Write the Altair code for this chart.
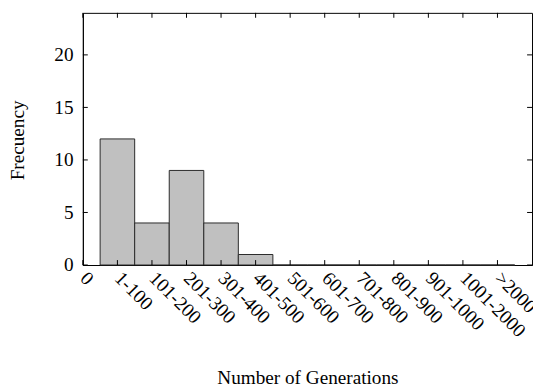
import altair as alt
import pandas as pd

# ---- data ----
categories = ["1-100", "101-200", "201-300", "301-400", "401-500", "501-600",
              "601-700", "701-800", "801-900", "901-1000", "1001-2000", ">2000"]
counts = [12, 4, 9, 4, 1, 0, 0, 0, 0, 0, 0, 0]
positions = list(range(1, len(categories) + 1))
x_tick_values = [0] + positions
x_tick_labels = ["0"] + categories
y_tick_values = [0, 5, 10, 15, 20]

W, H = 456, 256
FONT = "Liberation Serif"
FS = 19.5

bars_df = pd.DataFrame({
    "pos": positions,
    "label": categories,
    "count": counts,
    "left": [p - 0.5 for p in positions],
    "right": [p + 0.5 for p in positions],
})
xt_df = pd.DataFrame({"xt": x_tick_values})
yt_df = pd.DataFrame({"yt": y_tick_values})

x_scale = alt.Scale(domain=[0, 13], nice=False, zero=False)
y_scale = alt.Scale(domain=[0, 24], nice=False)

label_expr = "[" + ",".join("'" + s + "'" for s in x_tick_labels) + "][datum.value]"

common = dict(labelFont=FONT, titleFont=FONT, labelFontSize=FS, titleFontSize=FS,
              labelColor="black", titleColor="black", titleFontWeight="normal",
              tickSize=0, grid=False, domainColor="black", domainWidth=1)

x_axis = alt.Axis(values=x_tick_values, labelExpr=label_expr,
                  title="Number of Generations",
                  titleY=120, titleBaseline="alphabetic",
                  labelAngle=45, labelAlign="left", labelBaseline="middle",
                  labelPadding=10,
                  labelOverlap=False, labelFlush=False, labelBound=False,
                  **common)
y_axis = alt.Axis(values=y_tick_values, title="Frecuency",
                  titleAngle=270, titleX=-60, titleY=129,
                  titleBaseline="alphabetic", titleAlign="center",
                  labelPadding=10, **common)

bars = alt.Chart(bars_df).mark_rect(
    fill="#c0c0c0", stroke="#2a2a2a", strokeWidth=1
).encode(
    x=alt.X("left:Q", scale=x_scale, axis=x_axis),
    x2="right:Q",
    y=alt.Y("count:Q", scale=y_scale, axis=y_axis),
    y2=alt.datum(0),
)

tick_bottom = alt.Chart(xt_df).mark_rule(color="black", strokeWidth=1).encode(
    x=alt.X("xt:Q", scale=x_scale, axis=x_axis),
    y=alt.value(H), y2=alt.value(H - 5),
)
tick_top = alt.Chart(xt_df).mark_rule(color="black", strokeWidth=1).encode(
    x=alt.X("xt:Q", scale=x_scale, axis=x_axis),
    y=alt.value(0), y2=alt.value(5),
)
tick_left = alt.Chart(yt_df).mark_rule(color="black", strokeWidth=1).encode(
    y=alt.Y("yt:Q", scale=y_scale, axis=y_axis),
    x=alt.value(0), x2=alt.value(5),
)
tick_right = alt.Chart(yt_df).mark_rule(color="black", strokeWidth=1).encode(
    y=alt.Y("yt:Q", scale=y_scale, axis=y_axis),
    x=alt.value(W), x2=alt.value(W - 5),
)

chart = alt.layer(bars, tick_bottom, tick_top, tick_left, tick_right).properties(
    width=W, height=H,
    autosize="none",
    background="white",
    padding={"left": 76, "top": 2, "right": 1, "bottom": 126},
).configure_view(
    stroke="black", strokeWidth=1
)

chart.save("out.html", embed_options={"renderer": "svg", "actions": False})
